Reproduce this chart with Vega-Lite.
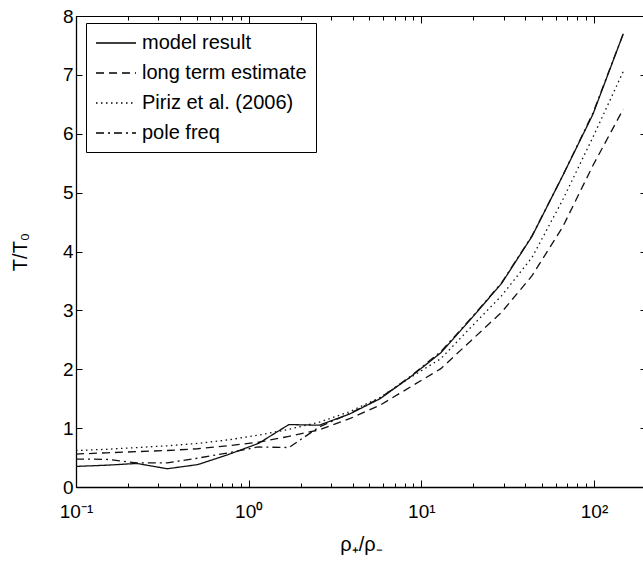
{
  "$schema": "https://vega.github.io/schema/vega-lite/v6.json",
  "width": 570,
  "height": 471,
  "autosize": {"type": "none"},
  "padding": {"left": 76, "top": 16, "right": 0, "bottom": 77},
  "background": "white",
  "config": {"view": {"stroke": "black", "strokeWidth": 1}, "font": "Liberation Sans"},
  "data": {"values": [
    {"x": 0.1, "series": "model result", "y": 0.35},
    {"x": 0.15, "series": "model result", "y": 0.37},
    {"x": 0.225, "series": "model result", "y": 0.40},
    {"x": 0.3375, "series": "model result", "y": 0.31},
    {"x": 0.5063, "series": "model result", "y": 0.38},
    {"x": 0.7594, "series": "model result", "y": 0.55},
    {"x": 1.139, "series": "model result", "y": 0.74},
    {"x": 1.709, "series": "model result", "y": 1.06},
    {"x": 2.563, "series": "model result", "y": 1.05},
    {"x": 3.844, "series": "model result", "y": 1.24},
    {"x": 5.767, "series": "model result", "y": 1.50},
    {"x": 8.65, "series": "model result", "y": 1.87},
    {"x": 12.97, "series": "model result", "y": 2.28},
    {"x": 19.46, "series": "model result", "y": 2.86},
    {"x": 29.19, "series": "model result", "y": 3.46},
    {"x": 43.79, "series": "model result", "y": 4.26},
    {"x": 65.68, "series": "model result", "y": 5.28},
    {"x": 98.53, "series": "model result", "y": 6.33},
    {"x": 147.8, "series": "model result", "y": 7.70},
    {"x": 0.1, "series": "long term estimate", "y": 0.56},
    {"x": 0.15, "series": "long term estimate", "y": 0.58},
    {"x": 0.225, "series": "long term estimate", "y": 0.60},
    {"x": 0.3375, "series": "long term estimate", "y": 0.62},
    {"x": 0.5063, "series": "long term estimate", "y": 0.65},
    {"x": 0.7594, "series": "long term estimate", "y": 0.70},
    {"x": 1.139, "series": "long term estimate", "y": 0.76},
    {"x": 1.709, "series": "long term estimate", "y": 0.86},
    {"x": 2.563, "series": "long term estimate", "y": 0.97},
    {"x": 3.844, "series": "long term estimate", "y": 1.16},
    {"x": 5.767, "series": "long term estimate", "y": 1.39},
    {"x": 8.65, "series": "long term estimate", "y": 1.70},
    {"x": 12.97, "series": "long term estimate", "y": 2.01},
    {"x": 19.46, "series": "long term estimate", "y": 2.49},
    {"x": 29.19, "series": "long term estimate", "y": 2.97},
    {"x": 43.79, "series": "long term estimate", "y": 3.59},
    {"x": 65.68, "series": "long term estimate", "y": 4.41},
    {"x": 98.53, "series": "long term estimate", "y": 5.46},
    {"x": 147.8, "series": "long term estimate", "y": 6.42},
    {"x": 0.1, "series": "Piriz et al. (2006)", "y": 0.62},
    {"x": 0.15, "series": "Piriz et al. (2006)", "y": 0.64},
    {"x": 0.225, "series": "Piriz et al. (2006)", "y": 0.67},
    {"x": 0.3375, "series": "Piriz et al. (2006)", "y": 0.70},
    {"x": 0.5063, "series": "Piriz et al. (2006)", "y": 0.74},
    {"x": 0.7594, "series": "Piriz et al. (2006)", "y": 0.80},
    {"x": 1.139, "series": "Piriz et al. (2006)", "y": 0.88},
    {"x": 1.709, "series": "Piriz et al. (2006)", "y": 0.98},
    {"x": 2.563, "series": "Piriz et al. (2006)", "y": 1.10},
    {"x": 3.844, "series": "Piriz et al. (2006)", "y": 1.28},
    {"x": 5.767, "series": "Piriz et al. (2006)", "y": 1.52},
    {"x": 8.65, "series": "Piriz et al. (2006)", "y": 1.86},
    {"x": 12.97, "series": "Piriz et al. (2006)", "y": 2.18},
    {"x": 19.46, "series": "Piriz et al. (2006)", "y": 2.72},
    {"x": 29.19, "series": "Piriz et al. (2006)", "y": 3.25},
    {"x": 43.79, "series": "Piriz et al. (2006)", "y": 3.90},
    {"x": 65.68, "series": "Piriz et al. (2006)", "y": 4.87},
    {"x": 98.53, "series": "Piriz et al. (2006)", "y": 5.94},
    {"x": 147.8, "series": "Piriz et al. (2006)", "y": 7.06},
    {"x": 0.1, "series": "pole freq", "y": 0.475},
    {"x": 0.15, "series": "pole freq", "y": 0.47},
    {"x": 0.225, "series": "pole freq", "y": 0.41},
    {"x": 0.3375, "series": "pole freq", "y": 0.41},
    {"x": 0.5063, "series": "pole freq", "y": 0.49},
    {"x": 0.7594, "series": "pole freq", "y": 0.58},
    {"x": 1.139, "series": "pole freq", "y": 0.68},
    {"x": 1.709, "series": "pole freq", "y": 0.67},
    {"x": 2.563, "series": "pole freq", "y": 1.02},
    {"x": 3.844, "series": "pole freq", "y": 1.25},
    {"x": 5.767, "series": "pole freq", "y": 1.51},
    {"x": 8.65, "series": "pole freq", "y": 1.88},
    {"x": 12.97, "series": "pole freq", "y": 2.30},
    {"x": 19.46, "series": "pole freq", "y": 2.87},
    {"x": 29.19, "series": "pole freq", "y": 3.47},
    {"x": 43.79, "series": "pole freq", "y": 4.27},
    {"x": 65.68, "series": "pole freq", "y": 5.28},
    {"x": 98.53, "series": "pole freq", "y": 6.35},
    {"x": 147.8, "series": "pole freq", "y": 7.70}
  ]},
  "layer": [
    {
      "mark": {"type": "line", "color": "#111", "strokeWidth": 1.3, "clip": true},
      "encoding": {
        "x": {
          "field": "x", "type": "quantitative",
          "scale": {"type": "log", "domain": [0.1, 200], "nice": false},
          "axis": {
            "values": [0.1, 0.2, 0.3, 0.4, 0.5, 0.6, 0.7, 0.8, 0.9, 1, 2, 3, 4, 5, 6, 7, 8, 9, 10, 20, 30, 40, 50, 60, 70, 80, 90, 100],
            "labelExpr": "datum.value == 0.1 ? '10⁻¹' : datum.value == 1 ? '10⁰' : datum.value == 10 ? '10¹' : datum.value == 100 ? '10²' : ''",
            "labelFontSize": 19, "labelColor": "black", "labelPadding": 22,
            "labelOverlap": false, "labelFlush": false,
            "tickSize": {"condition": {"test": "datum.value == 0.1 || datum.value == 1 || datum.value == 10 || datum.value == 100", "value": -7}, "value": -4},
            "tickColor": "black", "tickWidth": 1, "domainColor": "black", "domainWidth": 1.3, "grid": false,
            "title": "ρ₊/ρ₋", "titleFontSize": 20, "titleFontWeight": "normal", "titleColor": "black", "titlePadding": 10
          }
        },
        "y": {
          "field": "y", "type": "quantitative",
          "scale": {"domain": [0, 8], "nice": false},
          "axis": {
            "values": [0, 1, 2, 3, 4, 5, 6, 7, 8],
            "labelFontSize": 19, "labelColor": "black", "labelPadding": 9,
            "tickSize": -6, "tickColor": "black", "domainColor": "black", "domainWidth": 1.3, "grid": false,
            "title": "T/T₀", "titleFontSize": 20, "titleFontWeight": "normal", "titleColor": "black", "titlePadding": 32
          }
        },
        "strokeDash": {
          "field": "series", "type": "nominal",
          "scale": {
            "domain": ["model result", "long term estimate", "Piriz et al. (2006)", "pole freq"],
            "range": [[1, 0], [8, 5], [1.5, 3.5], [8, 4, 2, 4]]
          },
          "legend": {
            "orient": "none", "legendX": 10, "legendY": 7, "title": null,
            "strokeColor": "black", "fillColor": "white", "padding": 9, "cornerRadius": 0,
            "symbolType": "M-1,0H3", "symbolSize": 400, "symbolStrokeWidth": 1.3, "symbolStrokeColor": "black",
            "labelFontSize": 20, "labelColor": "black", "labelOffset": 25, "labelLimit": 300, "rowPadding": 9
          }
        }
      }
    },
    {
      "mark": {"type": "line", "opacity": 0},
      "encoding": {
        "x": {
          "field": "x", "type": "quantitative",
          "axis": {
            "orient": "top", "labels": false, "title": null, "domain": false, "grid": false,
            "values": [0.1, 0.2, 0.3, 0.4, 0.5, 0.6, 0.7, 0.8, 0.9, 1, 2, 3, 4, 5, 6, 7, 8, 9, 10, 20, 30, 40, 50, 60, 70, 80, 90, 100],
            "tickSize": {"condition": {"test": "datum.value == 0.1 || datum.value == 1 || datum.value == 10 || datum.value == 100", "value": -7}, "value": -4},
            "tickColor": "black"
          }
        },
        "y": {
          "field": "y", "type": "quantitative",
          "axis": {
            "orient": "right", "labels": false, "title": null, "domain": false, "grid": false,
            "values": [0, 1, 2, 3, 4, 5, 6, 7, 8], "tickSize": -6, "tickColor": "black"
          }
        }
      }
    }
  ],
  "resolve": {"axis": {"x": "independent", "y": "independent"}}
}
